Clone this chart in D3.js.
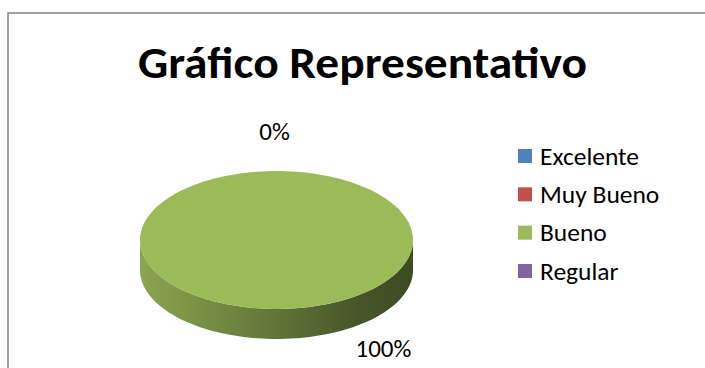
<!DOCTYPE html>
<html>
<head>
<meta charset="utf-8">
<script src="https://cdn.jsdelivr.net/npm/d3@7"></script>
<style>
  html, body { margin: 0; padding: 0; background: #fff; }
  svg { display: block; }
  text { font-family: Carlito, Calibri, Lato, "Open Sans", sans-serif; fill: #000; }
</style>
</head>
<body>
<svg id="chart" width="705" height="368"></svg>
<script>
// ---- data ----
const title = "Gráfico Representativo";
const categories = ["Excelente", "Muy Bueno", "Bueno", "Regular"];
const values = [0, 0, 100, 0];
const colors = ["#4f81bd", "#c0504d", "#9bbb59", "#8064a2"];

// ---- layout ----
const W = 705, H = 368;
const cx = 276.5, cy = 240, rx = 136.5, ry = 69, depth = 30;

const svg = d3.select("#chart");

// border
svg.append("rect")
  .attr("x", 8).attr("y", 13)
  .attr("width", W + 20).attr("height", H + 20)
  .attr("fill", "none").attr("stroke", "#8a8a8a").attr("stroke-width", 1.6);

// title
svg.append("text")
  .attr("x", 362.5).attr("y", 78)
  .attr("text-anchor", "middle")
  .attr("font-size", 45).attr("font-weight", "bold")
  .attr("textLength", 449).attr("lengthAdjust", "spacingAndGlyphs")
  .text(title);

// pie
const total = d3.sum(values);
const arcs = d3.pie().sort(null).value(d => d)(values);
const pt = (a, dy = 0) => [cx + rx * Math.sin(a), cy - ry * Math.cos(a) + dy];

const defs = svg.append("defs");
arcs.forEach((a, i) => {
  const base = d3.color(colors[i]);
  const g = defs.append("linearGradient")
    .attr("id", "side" + i)
    .attr("gradientUnits", "userSpaceOnUse")
    .attr("x1", cx - rx).attr("x2", cx + rx).attr("y1", 0).attr("y2", 0);
  [[0, 0.33], [0.45, 1.2], [0.8, 2.2], [1, 2.6]].forEach(([o, k]) => {
    g.append("stop").attr("offset", o).attr("stop-color", base.darker(k).formatHex());
  });
});

const N = 180;
function sample(a0, a1, dy) {
  const pts = [];
  const n = Math.max(2, Math.ceil(N * (a1 - a0) / (2 * Math.PI)));
  for (let k = 0; k <= n; k++) pts.push(pt(a0 + (a1 - a0) * k / n, dy));
  return pts;
}
const line = d3.line();

// side walls (front half: angles between pi/2 and 3pi/2)
arcs.forEach((a, i) => {
  if (a.endAngle - a.startAngle <= 0) return;
  const s = Math.max(a.startAngle, Math.PI / 2);
  const e = Math.min(a.endAngle, 3 * Math.PI / 2);
  if (e <= s) return;
  const top = sample(s, e, 0);
  const bot = sample(s, e, depth).reverse();
  svg.append("path")
    .attr("d", line(top.concat(bot)) + "Z")
    .attr("fill", `url(#side${i})`);
});

// top faces
arcs.forEach((a, i) => {
  const span = a.endAngle - a.startAngle;
  if (span <= 0) return;
  let d;
  if (span >= 2 * Math.PI - 1e-9) {
    d = line(sample(0, 2 * Math.PI, 0)) + "Z";
  } else {
    d = line([[cx, cy]].concat(sample(a.startAngle, a.endAngle, 0))) + "Z";
  }
  svg.append("path").attr("d", d).attr("fill", colors[i]);
});

// data labels
const fmt = v => Math.round(v / total * 100) + "%";
const labelAngleShift = -0.9;
const seen = new Set();
arcs.forEach((a, i) => {
  let x, y;
  if (a.endAngle - a.startAngle <= 0) {
    const p = pt(a.startAngle);
    x = p[0] - 2; y = cy - ry - 31;
  } else {
    const mid = (a.startAngle + a.endAngle) / 2 + labelAngleShift;
    const p = pt(mid, depth);
    x = p[0]; y = p[1] + 44;
  }
  const key = fmt(a.value) + Math.round(x) + Math.round(y);
  if (seen.has(key)) return;
  seen.add(key);
  svg.append("text")
    .attr("x", x).attr("y", y)
    .attr("text-anchor", "middle")
    .attr("font-size", 25)
    .text(fmt(a.value));
});

// legend
const ly = d3.scalePoint().domain(categories).range([156, 271]);
const lg = svg.append("g");
categories.forEach((c, i) => {
  lg.append("rect")
    .attr("x", 518).attr("y", ly(c) - 7)
    .attr("width", 14).attr("height", 14)
    .attr("fill", colors[i]);
  lg.append("text")
    .attr("x", 540).attr("y", ly(c) + 8.5)
    .attr("font-size", 25.5)
    .text(c);
});
</script>
</body>
</html>
